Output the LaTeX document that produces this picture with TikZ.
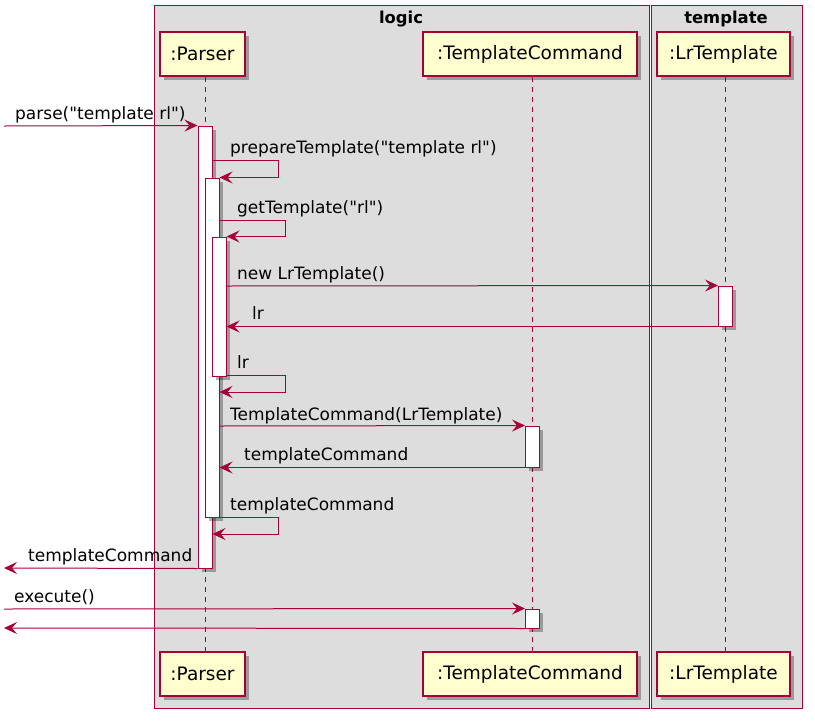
\documentclass[tikz,border=0pt]{standalone}
\usepackage{fontspec}
\setmainfont{DejaVu Sans}[Ligatures=TeXOff]
\usetikzlibrary{arrows.meta,shadows}
\definecolor{pumlred}{HTML}{A80036}
\definecolor{pumlfill}{HTML}{FEFECE}
\definecolor{pumlbox}{HTML}{DDDDDD}
\begin{document}
\begin{tikzpicture}[x=1pt,y=-1pt,
  grp/.style={draw=pumlred, fill=pumlbox, line width=1pt},
  grptitle/.style={font=\fontsize{16.4}{18}\selectfont\bfseries, anchor=base},
  shad/.style={drop shadow={shadow xshift=3.5pt, shadow yshift=-3.5pt, fill=black, opacity=0.3}},
  part/.style={draw=pumlred, fill=pumlfill, line width=1.5pt, minimum height=44pt, inner sep=0pt, font=\fontsize{18.5}{20}\selectfont, shad},
  life/.style={draw=pumlred, line width=1pt, dash pattern=on 5pt off 5pt},
  act/.style={draw=pumlred, fill=white, line width=1pt, minimum width=14pt, inner sep=0pt, shad},
  msg/.style={draw=pumlred, line width=1pt, -{Stealth[length=13pt, width=12pt, inset=5pt]}},
  lbl/.style={font=\fontsize{17}{19}\selectfont, anchor=base west, inner sep=0pt}
]
\useasboundingbox (0,0) rectangle (815,721);
% groups
\node[grp, minimum width=495pt, minimum height=703pt, inner sep=0pt, anchor=north west] (glogic) at (154,5) {};
\node[grp, minimum width=151pt, minimum height=703pt, inner sep=0pt, anchor=north west] (gtempl) at (651,5) {};
\node[grptitle] (tlogic) at (401,23) {logic};
\node[grptitle] (ttempl) at (726,23) {template};
% participants
\node[part, minimum width=85pt] (p1) at (202.5,54) {:Parser};
\node[part, minimum width=214pt] (p2) at (530,54) {:TemplateCommand};
\node[part, minimum width=133pt] (p3) at (723.5,54) {:LrTemplate};
\node[part, minimum width=85pt] (q1) at (202.5,674) {:Parser};
\node[part, minimum width=214pt] (q2) at (530,674) {:TemplateCommand};
\node[part, minimum width=133pt] (q3) at (723.5,674) {:LrTemplate};
% lifelines
\draw[life] ([xshift=2.5pt]p1.south) -- ([xshift=2.5pt]q1.north);
\draw[life] ([xshift=2pt]p2.south) -- ([xshift=2pt]q2.north);
\draw[life] ([xshift=1.5pt]p3.south) -- ([xshift=1.5pt]q3.north);
% activations
\node[act, minimum height=442pt] (a1) at (205,347) {};
\node[act, minimum height=339pt] (a2) at (212,347.5) {};
\node[act, minimum height=139pt] (a3) at (219,306.5) {};
\node[act, minimum height=40pt] (aL) at (725.5,306) {};
\node[act, minimum height=41pt] (aT1) at (532.5,446.5) {};
\node[act, minimum height=19pt] (aT2) at (532.5,618.5) {};
% y levels and free ends
\coordinate (s1) at (4,126);
\coordinate (y160) at (0,160);
\coordinate (y220) at (0,220);
\coordinate (y286) at (0,286);
\coordinate (y374) at (0,375);
\coordinate (y392) at (0,392);
\coordinate (y427) at (0,426);
\coordinate (y517) at (0,517);
\coordinate (y534) at (0,534);
\coordinate (e10) at (4,568);
\coordinate (s11) at (4,609);
\coordinate (e12) at (4,628);
% messages
\draw[msg] (s1) -- (a1.north west);
\node[lbl] (l1) at (15,119) {parse("template rl")};
\draw[msg] (a1.east |- y160) -- ++(66,0) |- (a2.north east);
\node[lbl] (l2) at (230,153) {prepareTemplate("template rl")};
\draw[msg] (a2.east |- y220) -- ++(66,0) |- (a3.north east);
\node[lbl] (l3) at (237,213) {getTemplate("rl")};
\draw[msg] (a3.east |- y286) -- (aL.north west);
\node[lbl] (l4) at (237,279) {new LrTemplate()};
\draw[msg] (aL.south west) -- (a3.east |- aL.south west);
\node[lbl] (l5) at (252,319) {lr};
\draw[msg] (a3.east |- y374) -- ++(59,0) |- (a2.east |- y392);
\node[lbl] (l6) at (237,368) {lr};
\draw[msg] (a2.east |- y427) -- (aT1.north west);
\node[lbl] (l7) at (230,420) {TemplateCommand(LrTemplate)};
\draw[msg] (aT1.south west) -- (a2.east |- aT1.south west);
\node[lbl] (l8) at (244,460) {templateCommand};
\draw[msg] (a2.east |- y517) -- ++(59,0) |- (a1.east |- y534);
\node[lbl] (l9) at (230,510) {templateCommand};
\draw[msg] (a1.south west) -- (e10);
\node[lbl] (l10) at (28,561) {templateCommand};
\draw[msg] (s11) -- (aT2.north west);
\node[lbl] (l11) at (14,602) {execute()};
\draw[msg] (aT2.south west) -- (e12);
\end{tikzpicture}
\end{document}
